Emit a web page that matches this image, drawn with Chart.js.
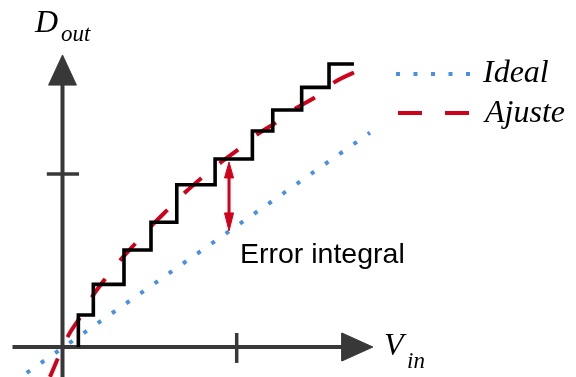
<!DOCTYPE html>
<html>
<head>
<meta charset="utf-8">
<script src="https://cdn.jsdelivr.net/npm/chart.js@4.4.1/dist/chart.umd.min.js"></script>
<style>
  body { margin: 0; background: #fff; }
  #wrap { width: 576px; height: 377px; position: relative; }
</style>
</head>
<body>
<div id="wrap"><canvas id="myChart"></canvas></div>
<script>
// units: 1 = the tick mark on each axis
// staircase (real converter output)
const stairX = [0.091, 0.177, 0.353, 0.508, 0.656, 0.876, 1.090, 1.207, 1.373, 1.530, 1.673];
const stairY = [0, 0.185, 0.362, 0.561, 0.721, 0.938, 1.087, 1.249, 1.370, 1.501, 1.636];

// fitted curve (Ajuste)
const ajusteX = [-0.072, 0.03, 0.10, 0.17, 0.25, 0.33, 0.42, 0.52, 0.61, 0.70, 0.79, 0.90, 1.02, 1.12, 1.23, 1.34, 1.46, 1.56, 1.68];
const ajusteY = [-0.173, 0.06, 0.17, 0.29, 0.40, 0.50, 0.60, 0.71, 0.80, 0.89, 0.97, 1.06, 1.15, 1.23, 1.30, 1.38, 1.45, 1.53, 1.59];

// ideal line
const idealX = [-0.2055, 1.765];
const idealY = [-0.150, 1.239];

// error arrow (vertical, between staircase and ideal)
const errX = 0.956;
const errTop = 1.069;
const errBottom = 0.671;

// axis ticks
const xTickAt = 1;
const yTickAt = 1;

const labelsText = { yName: 'D', ySub: 'out', xName: 'V', xSub: 'in', error: 'Error integral', ideal: 'Ideal', ajuste: 'Ajuste' };

const RED = '#d0021b';
const BLUE = '#4a90e2';
const AXIS = '#383838';

function pts(xs, ys) {
    return xs.map((x, i) => ({ x: x, y: ys[i] }));
}

// small helper for closed triangles (arrow heads)
function tri(a, b, c) {
    return [a, b, c, a];
}

const hw = 0.026; // error arrow half width
const datasets = [
    {
        label: 'stairs',
        data: pts(stairX, stairY),
        borderColor: '#000',
        borderWidth: 3.6,
        stepped: 'after',
        borderJoinStyle: 'miter'
    },
    {
        label: 'err',
        data: [{ x: errX, y: errTop - 0.08 }, { x: errX, y: errBottom + 0.08 }],
        borderColor: RED,
        borderWidth: 3
    },
    {
        label: 'errHeadTop',
        data: tri({ x: errX, y: errTop }, { x: errX - hw, y: errTop - 0.092 }, { x: errX + hw, y: errTop - 0.092 }),
        borderColor: RED, backgroundColor: RED, borderWidth: 1, fill: 'shape'
    },
    {
        label: 'errHeadBottom',
        data: tri({ x: errX, y: errBottom }, { x: errX - hw, y: errBottom + 0.104 }, { x: errX + hw, y: errBottom + 0.104 }),
        borderColor: RED, backgroundColor: RED, borderWidth: 1, fill: 'shape'
    },
    {
        label: 'Ajuste',
        data: pts(ajusteX, ajusteY),
        borderColor: RED,
        borderWidth: 4,
        borderDash: [23, 23.5],
        borderDashOffset: 3,
        borderCapStyle: 'butt',
        cubicInterpolationMode: 'monotone'
    },
    {
        label: 'Ideal',
        data: pts(idealX, idealY),
        borderColor: BLUE,
        borderWidth: 4,
        borderDash: [4, 13.35],
        borderCapStyle: 'butt'
    },
    // axes
    {
        label: 'xAxis',
        data: [{ x: -0.287, y: 0 }, { x: 1.62, y: 0 }],
        borderColor: AXIS, borderWidth: 4
    },
    {
        label: 'yAxis',
        data: [{ x: 0, y: -0.18 }, { x: 0, y: 1.53 }],
        borderColor: AXIS, borderWidth: 4
    },
    {
        label: 'xArrow',
        data: tri({ x: 1.782, y: 0 }, { x: 1.604, y: 0.081 }, { x: 1.604, y: -0.081 }),
        borderColor: AXIS, backgroundColor: AXIS, borderWidth: 1, fill: 'shape'
    },
    {
        label: 'yArrow',
        data: tri({ x: 0, y: 1.688 }, { x: -0.080, y: 1.514 }, { x: 0.080, y: 1.514 }),
        borderColor: AXIS, backgroundColor: AXIS, borderWidth: 1, fill: 'shape'
    },
    {
        label: 'xTick',
        data: [{ x: xTickAt, y: -0.092 }, { x: xTickAt, y: 0.081 }],
        borderColor: AXIS, borderWidth: 3.5
    },
    {
        label: 'yTick',
        data: [{ x: -0.09, y: yTickAt }, { x: 0.095, y: yTickAt }],
        borderColor: AXIS, borderWidth: 3.5
    }
];

// text labels + legend drawn on top
const textPlugin = {
    id: 'textLabels',
    afterDatasetsDraw(chart) {
        const ctx = chart.ctx;
        ctx.save();
        ctx.fillStyle = '#000';
        ctx.textBaseline = 'alphabetic';
        ctx.textAlign = 'left';

        ctx.font = 'italic 32px "Liberation Serif"';
        ctx.fillText(labelsText.yName, 35, 32);
        ctx.fillText(labelsText.xName, 384, 355);
        ctx.font = 'italic 23px "Liberation Serif"';
        ctx.fillText(labelsText.ySub, 61, 41);
        ctx.fillText(labelsText.xSub, 407, 368);

        ctx.font = '28.5px "Liberation Sans"';
        ctx.fillText(labelsText.error, 240, 263);

        // legend
        ctx.lineWidth = 4;
        ctx.lineCap = 'butt';
        ctx.strokeStyle = BLUE;
        ctx.setLineDash([4, 13.5]);
        ctx.beginPath();
        ctx.moveTo(396, 74);
        ctx.lineTo(470, 74);
        ctx.stroke();
        ctx.strokeStyle = RED;
        ctx.setLineDash([24, 23]);
        ctx.beginPath();
        ctx.moveTo(398, 113);
        ctx.lineTo(469, 113);
        ctx.stroke();
        ctx.setLineDash([]);

        ctx.font = 'italic 32px "Liberation Serif"';
        ctx.fillText(labelsText.ideal, 483, 82);
        ctx.fillText(labelsText.ajuste, 485, 122);
        ctx.restore();
    }
};

const ctx = document.getElementById('myChart').getContext('2d');
const myChart = new Chart(ctx, {
    type: 'scatter',
    data: { datasets: datasets },
    options: {
        responsive: true,
        maintainAspectRatio: false,
        animation: false,
        layout: { padding: 0 },
        elements: {
            point: { radius: 0, hoverRadius: 0 },
            line: { tension: 0, fill: false }
        },
        datasets: { scatter: { showLine: true } },
        scales: {
            x: { type: 'linear', display: false, min: -0.3588, max: 2.9478 },
            y: { type: 'linear', display: false, min: -0.1734, max: 2.0058 }
        },
        plugins: {
            legend: { display: false },
            tooltip: { enabled: false }
        }
    },
    plugins: [textPlugin]
});
</script>
</body>
</html>
